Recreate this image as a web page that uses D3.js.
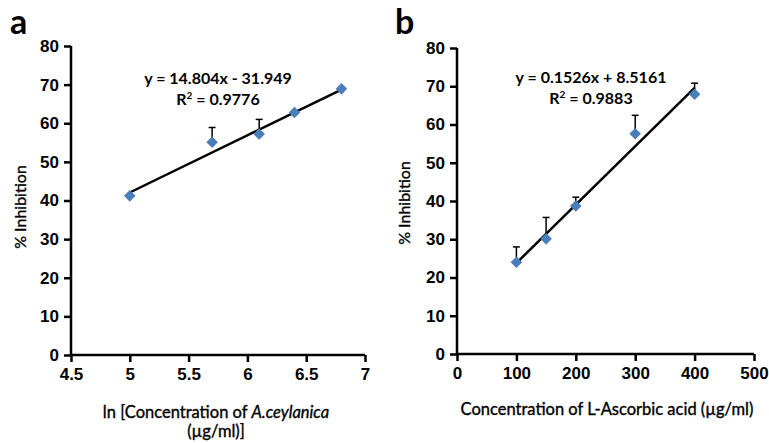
<!DOCTYPE html>
<html>
<head>
<meta charset="utf-8">
<script src="https://cdn.jsdelivr.net/npm/d3@7"></script>
<style>
  body { margin: 0; background: #fff; }
  svg { font-family: Lato, "Liberation Sans", sans-serif; }
</style>
</head>
<body>
<svg id="chart" width="769" height="443"></svg>
<script>
// panel a data
var aX = [5, 5.7, 6.1, 6.4, 6.8];
var aY = [41.2, 55.1, 57.2, 62.8, 68.9];
var aErr = [0, 3.8, 3.8, 0, 0];
var aTicksX = [4.5, 5, 5.5, 6, 6.5, 7];
var aSlope = 14.804, aIntercept = -31.949;

// panel b data
var bX = [100, 150, 200, 300, 400];
var bY = [24.0, 30.1, 38.7, 57.6, 67.9];
var bErr = [4.0, 5.6, 2.3, 4.8, 2.9];
var bTicksX = [0, 100, 200, 300, 400, 500];
var bSlope = 0.1526, bIntercept = 8.5161;

var yTicks = [0, 10, 20, 30, 40, 50, 60, 70, 80];

var svg = d3.select("#chart");
var markerColor = "#4a7ebb";

function title(g, x, y, size) {
    return g.append("text").attr("x", x).attr("y", y)
        .attr("text-anchor", "middle").attr("font-size", size)
        .attr("stroke", "#000").attr("stroke-width", 0.35);
}

function drawPanel(p) {
    var x = d3.scaleLinear().domain(p.xDomain).range(p.xRange);
    var y = d3.scaleLinear().domain([0, 80]).range(p.yRange);
    var g = svg.append("g");

    // axes
    var xAxis = d3.axisBottom(x).tickValues(p.ticksX).tickFormat(d => String(d))
        .tickSizeOuter(0).tickSizeInner(7).tickPadding(6);
    var yAxis = d3.axisLeft(y).tickValues(yTicks).tickSizeOuter(0).tickSizeInner(7).tickPadding(5);

    var gx = g.append("g").attr("transform", `translate(0,${p.yRange[0]})`).call(xAxis);
    var gy = g.append("g").attr("transform", `translate(${p.xRange[0]},0)`).call(yAxis);
    [gx, gy].forEach(a => {
        a.selectAll("path, line").attr("stroke", "#000").attr("stroke-width", 2.5);
        a.selectAll("text").attr("fill", "#000").attr("font-size", 17).attr("font-weight", "bold");
    });
    gx.select(".domain").attr("d", `M${p.xRange[0]},0H${p.xRange[1]}`);
    gy.select(".domain").attr("d", `M0,${p.yRange[0] + 1}V${p.yRange[1]}`);

    // trend line
    var x0 = d3.min(p.xs), x1 = d3.max(p.xs);
    g.append("line")
        .attr("x1", x(x0)).attr("y1", y(p.slope * x0 + p.intercept))
        .attr("x2", x(x1)).attr("y2", y(p.slope * x1 + p.intercept))
        .attr("stroke", "#000").attr("stroke-width", 2.5);

    // error bars (upper only)
    p.xs.forEach((v, i) => {
        if (!p.err[i]) return;
        var top = y(p.ys[i] + p.err[i]);
        g.append("line").attr("x1", x(v)).attr("x2", x(v))
            .attr("y1", y(p.ys[i])).attr("y2", top)
            .attr("stroke", "#000").attr("stroke-width", 1.5);
        g.append("line").attr("x1", x(v) - 3.5).attr("x2", x(v) + 3.5)
            .attr("y1", top).attr("y2", top)
            .attr("stroke", "#000").attr("stroke-width", 1.5);
    });

    // markers
    g.selectAll(".pt").data(p.xs).join("path")
        .attr("transform", (d, i) => `translate(${x(d)},${y(p.ys[i])})`)
        .attr("d", d3.symbol().type(d3.symbolDiamond2).size(85)())
        .attr("fill", markerColor);

    // equation
    g.append("text").attr("x", p.eqX).attr("y", p.eqY)
        .attr("text-anchor", "middle").attr("font-size", 16).attr("font-weight", "bold")
        .text(p.eqText);
    var r2 = g.append("text").attr("x", p.eqX).attr("y", p.eqY + 21)
        .attr("text-anchor", "middle").attr("font-size", 16).attr("font-weight", "bold");
    r2.append("tspan").text("R");
    r2.append("tspan").attr("font-size", 10).attr("dy", -6).text("2");
    r2.append("tspan").attr("dy", 6).text(" = " + p.r2);

    // y title
    g.append("text")
        .attr("transform", `translate(${p.yTitleX},${p.yTitleY}) rotate(-90)`)
        .attr("text-anchor", "middle").attr("font-size", 16)
        .attr("stroke", "#000").attr("stroke-width", 0.35)
        .text("% Inhibition");

    // panel letter
    g.append("text").attr("x", p.letterX).attr("y", 34)
        .attr("font-size", 34).attr("font-weight", "bold").text(p.letter);

    return g;
}

var ga = drawPanel({
    xDomain: [4.5, 7], xRange: [71, 365], yRange: [355, 46],
    ticksX: aTicksX, xs: aX, ys: aY, err: aErr,
    slope: aSlope, intercept: aIntercept,
    eqX: 218, eqY: 84, eqText: "y = 14.804x - 31.949", r2: "0.9776",
    yTitleX: 26, yTitleY: 207,
    letter: "a", letterX: 10
});
var tA = title(ga, 216, 418, 16.5);
tA.append("tspan").text("ln [Concentration of ");
tA.append("tspan").attr("font-style", "italic").text("A.ceylanica");
title(ga, 216, 437, 16.5).text("(µg/ml)]");

var gb = drawPanel({
    xDomain: [0, 500], xRange: [457, 754], yRange: [354, 48],
    ticksX: bTicksX, xs: bX, ys: bY, err: bErr,
    slope: bSlope, intercept: bIntercept,
    eqX: 591, eqY: 83, eqText: "y = 0.1526x + 8.5161", r2: "0.9883",
    yTitleX: 410, yTitleY: 203,
    letter: "b", letterX: 395
});
title(gb, 607, 415, 16.5).text("Concentration of L-Ascorbic acid (µg/ml)");
</script>
</body>
</html>
